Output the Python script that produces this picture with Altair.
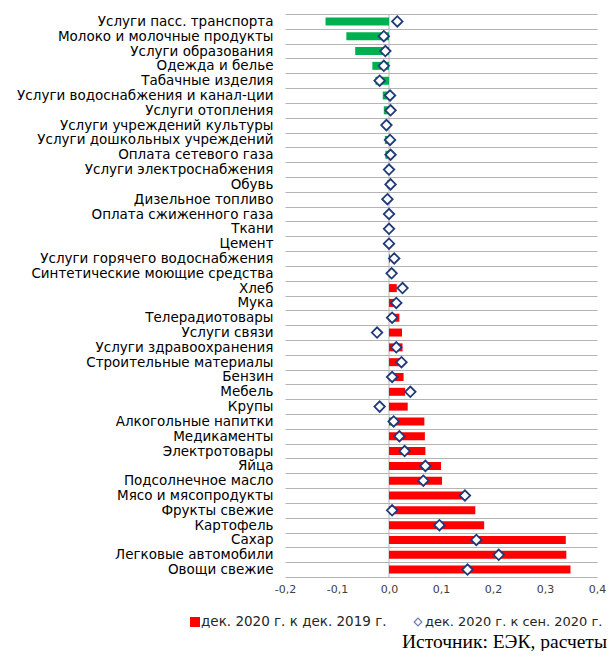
import altair as alt
import pandas as pd

categories = [
    "Услуги пасс. транспорта", "Молоко и молочные продукты", "Услуги образования",
    "Одежда и белье", "Табачные изделия", "Услуги водоснабжения и канал-ции",
    "Услуги отопления", "Услуги учреждений культуры", "Услуги дошкольных учреждений",
    "Оплата сетевого газа", "Услуги электроснабжения", "Обувь", "Дизельное топливо",
    "Оплата сжиженного газа", "Ткани", "Цемент", "Услуги горячего водоснабжения",
    "Синтетические моющие средства", "Хлеб", "Мука", "Телерадиотовары", "Услуги связи",
    "Услуги здравоохранения", "Строительные материалы", "Бензин", "Мебель", "Крупы",
    "Алкогольные напитки", "Медикаменты", "Электротовары", "Яйца", "Подсолнечное масло",
    "Мясо и мясопродукты", "Фрукты свежие", "Картофель", "Сахар", "Легковые автомобили",
    "Овощи свежие",
]
dec_to_dec = [
    -0.122, -0.082, -0.065, -0.032, -0.026, -0.012, -0.010, -0.009, -0.008, -0.007,
    -0.006, -0.004, 0.0, 0.0, 0.0, 0.0, 0.002, 0.010, 0.015, 0.016, 0.020, 0.025,
    0.026, 0.027, 0.028, 0.031, 0.036, 0.068, 0.069, 0.070, 0.100, 0.102, 0.143,
    0.166, 0.183, 0.340, 0.341, 0.349,
]
dec_to_sep = [
    0.016, -0.010, -0.007, -0.010, -0.018, 0.002, 0.003, -0.005, 0.002, 0.003,
    0.000, 0.003, -0.003, 0.000, 0.000, 0.000, 0.010, 0.005, 0.026, 0.014, 0.006,
    -0.023, 0.014, 0.024, 0.006, 0.041, -0.018, 0.009, 0.020, 0.030, 0.070, 0.066,
    0.146, 0.006, 0.097, 0.168, 0.211, 0.151,
]
x_ticks = [-0.2, -0.1, 0.0, 0.1, 0.2, 0.3, 0.4]
series_names = ["дек. 2020 г. к дек. 2019 г.", "дек. 2020 г. к сен. 2020 г."]
source_text = "Источник: ЕЭК, расчеты"

df = pd.DataFrame({"cat": categories, "dd": dec_to_dec, "ds": dec_to_sep})

FONT = "DejaVu Sans"
W, H = 312, 563
LEFT = 277
TOP = 6

y_enc = alt.Y(
    "cat:N", sort=categories,
    scale=alt.Scale(paddingInner=0, paddingOuter=0),
    axis=alt.Axis(title=None, grid=True, tickBand="extent", ticks=False, domain=False,
                  labelFontSize=13.5, labelFont=FONT, labelColor="#000000",
                  labelPadding=12, labelLimit=400, gridColor="#B4B4B4", gridWidth=1),
)
x_scale = alt.Scale(domain=[-0.2, 0.4], nice=False, zero=False)
x_axis = alt.Axis(
    title=None, values=x_ticks, grid=False, domain=False, ticks=False, labelFlush=False,
    labelExpr="(datum.value < -0.0001 ? '-' : '') + replace(format(abs(datum.value), '.1f'), '.', ',')",
    labelFontSize=11, labelFont=FONT, labelColor="#404040", labelPadding=6,
)

base = alt.Chart(df)

zero_line = alt.Chart(pd.DataFrame({"z": [0.0]})).mark_rule(color="#B4B4B4", strokeWidth=1).encode(
    x=alt.X("z:Q", scale=x_scale, axis=x_axis)
)

bars = base.mark_bar(size=8).encode(
    y=y_enc,
    x=alt.X("dd:Q", scale=x_scale, axis=x_axis),
    x2=alt.datum(0),
    color=alt.condition("datum.dd < 0", alt.value("#00B050"), alt.value("#FF0000")),
)

diamonds = base.mark_point(shape="diamond", filled=True, fill="white", stroke="#1F3A78",
                           strokeWidth=1.8, size=110, opacity=1).encode(
    y=alt.Y("cat:N", sort=categories),
    x=alt.X("ds:Q", scale=x_scale),
)

one = pd.DataFrame({"a": [0]})
LEG_Y = 622 - 8 - TOP
leg_sq = alt.Chart(one).mark_square(size=100, color="#FF0000", opacity=1).encode(
    x=alt.value(195 - 8 - LEFT), y=alt.value(LEG_Y))
leg_t1 = alt.Chart(one).mark_text(align="left", baseline="middle", fontSize=13.5, font=FONT,
                                  color="#262626").encode(
    x=alt.value(201 - 8 - LEFT), y=alt.value(LEG_Y), text=alt.value(series_names[0]))
leg_dm = alt.Chart(one).mark_point(shape="diamond", filled=True, fill="white", stroke="#6A7FA8",
                                  strokeWidth=1.2, size=60, opacity=1).encode(
    x=alt.value(418 - 8 - LEFT), y=alt.value(LEG_Y))
leg_t2 = alt.Chart(one).mark_text(align="left", baseline="middle", fontSize=13, font=FONT,
                                  color="#262626").encode(
    x=alt.value(425 - 8 - LEFT), y=alt.value(LEG_Y), text=alt.value(series_names[1]))
src = alt.Chart(one).mark_text(align="right", baseline="alphabetic", fontSize=19.5,
                               font="Liberation Serif", color="#000000").encode(
    x=alt.value(607 - 8 - LEFT), y=alt.value(648 - 8 - TOP), text=alt.value(source_text))

chart = alt.layer(zero_line, bars, diamonds, leg_sq, leg_t1, leg_dm, leg_t2, src).properties(
    width=W, height=H,
    autosize=alt.AutoSizeParams(type="none"),
    padding={"left": LEFT, "top": TOP, "right": 11, "bottom": 74},
).configure_view(stroke=None)

chart.save("out.html", embed_options={"renderer": "svg", "actions": False})
